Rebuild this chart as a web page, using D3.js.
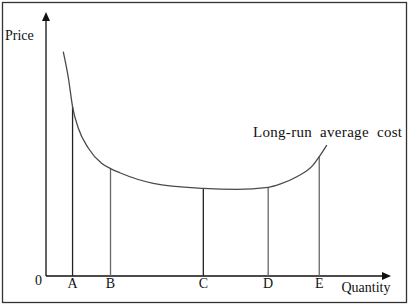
<!DOCTYPE html>
<html>
<head>
<meta charset="utf-8">
<script src="https://cdn.jsdelivr.net/npm/d3@7"></script>
<style>
  body { margin: 0; background: #fff; }
</style>
</head>
<body>
<svg id="chart" width="410" height="307"></svg>
<script>
// long-run average cost curve (quantity, price) in chart units
const curveQ = [0.50, 0.65, 0.77, 0.94, 1.23, 1.61, 1.87, 2.14, 3.11, 4.56, 5.53, 6.44, 6.78, 7.27, 7.74, 7.92, 8.14];
const curveP = [8.50, 7.49, 6.41, 5.59, 4.84, 4.27, 4.07, 3.91, 3.51, 3.32, 3.28, 3.36, 3.48, 3.76, 4.20, 4.52, 4.96];
// quantities marked on the axis and the cost where each drop line meets the curve
const markLabels = ["A", "B", "C", "D", "E"];
const markQ = [0.77, 1.87, 4.56, 6.44, 7.92];
const markP = [6.41, 4.07, 3.32, 3.36, 4.52];

const FONT = "'Liberation Serif', 'DejaVu Serif', serif";
const svg = d3.select("#chart");

const x = d3.scaleLinear().domain([0, 10]).range([46, 391]);
const y = d3.scaleLinear().domain([0, 10]).range([276, 12]);

// frame
svg.append("rect")
  .attr("x", 2.5).attr("y", 2.5)
  .attr("width", 404).attr("height", 300)
  .attr("fill", "none").attr("stroke", "#333").attr("stroke-width", 1.3);

// axes
svg.append("line")
  .attr("x1", x(0)).attr("y1", y(0))
  .attr("x2", x(0)).attr("y2", y(10) + 6)
  .attr("stroke", "#111").attr("stroke-width", 1.3);
svg.append("line")
  .attr("x1", x(0)).attr("y1", y(0))
  .attr("x2", x(10) - 6).attr("y2", y(0))
  .attr("stroke", "#111").attr("stroke-width", 1.3);

svg.append("path")
  .attr("d", `M${x(0)},${y(10)} L${x(0) - 4},${y(10) + 9} L${x(0) + 4},${y(10) + 9} Z`)
  .attr("fill", "#111");
svg.append("path")
  .attr("d", `M${x(10)},${y(0)} L${x(10) - 9},${y(0) - 4} L${x(10) - 9},${y(0) + 4} Z`)
  .attr("fill", "#111");

// drop lines
svg.selectAll(".drop")
  .data(markQ)
  .enter()
  .append("line")
  .attr("class", "drop")
  .attr("x1", d => x(d)).attr("x2", d => x(d))
  .attr("y1", y(0))
  .attr("y2", (d, i) => y(markP[i]))
  .attr("stroke", (d, i) => i == 0 || i == 2 ? "#222" : "#666")
  .attr("stroke-width", 1.3);

// curve
const pts = curveQ.map((q, i) => [q, curveP[i]]);
svg.append("path")
  .datum(pts)
  .attr("d", d3.line().x(d => x(d[0])).y(d => y(d[1])).curve(d3.curveMonotoneX))
  .attr("fill", "none")
  .attr("stroke", "#4a4a4a")
  .attr("stroke-width", 1.3);

// labels
function label(tx, ty, s, anchor, size) {
  return svg.append("text")
    .attr("x", tx).attr("y", ty)
    .attr("text-anchor", anchor || "start")
    .attr("font-family", FONT)
    .attr("font-size", size || 14)
    .attr("fill", "#111")
    .text(s);
}

markLabels.forEach((m, i) => label(x(markQ[i]), 288, m, "middle"));
label(38.5, 285, "0", "middle");
label(5, 40, "Price");
label(341.5, 292, "Quantity");

label(253, 137, "Long-run average cost", "start", 15)
  .attr("word-spacing", 4)
  .attr("textLength", 149)
  .attr("lengthAdjust", "spacing");
</script>
</body>
</html>
